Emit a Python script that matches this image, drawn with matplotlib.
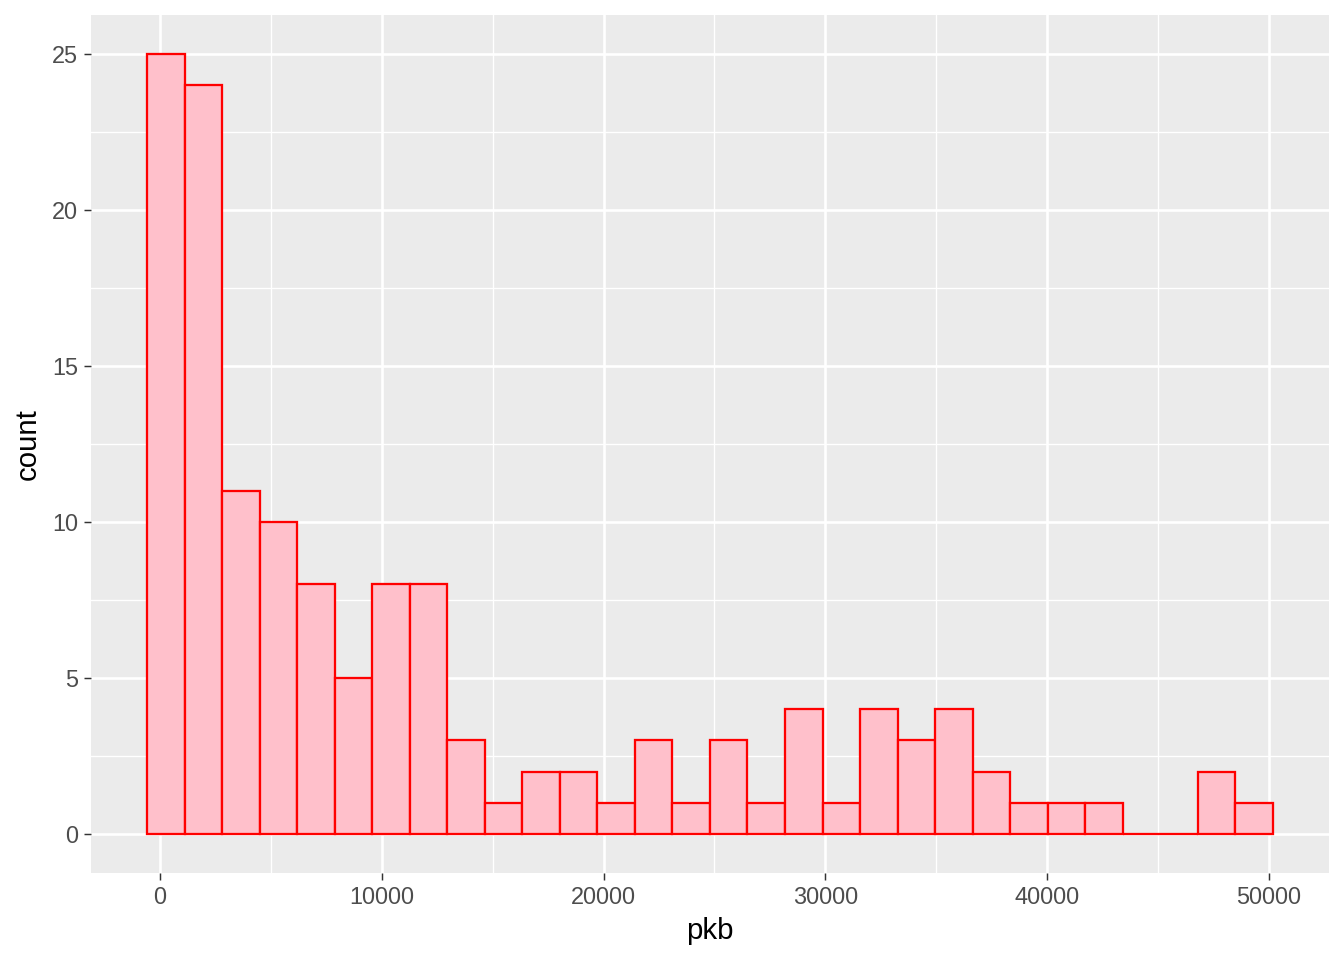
import matplotlib
matplotlib.use("Agg")
import matplotlib.pyplot as plt
import numpy as np

# histogram counts (30 bins, ggplot style)
counts = [25, 24, 11, 10, 8, 5, 8, 8, 3, 1,
          2, 2, 1, 3, 1, 3, 1, 4, 1, 4,
          3, 4, 2, 1, 1, 1, 0, 0, 2, 1]
first_center = 270
last_center = 49324
x_ticks = [0, 10000, 20000, 30000, 40000, 50000]
y_ticks = [0, 5, 10, 15, 20, 25]

nbins = len(counts)
binwidth = (last_center - first_center) / (nbins - 1)
centers = first_center + binwidth * np.arange(nbins)

plt.rcParams['font.family'] = ['Liberation Sans', 'DejaVu Sans']

fig = plt.figure(figsize=(7, 5), dpi=192)
ax = fig.add_axes([0.0677, 0.0906, 0.9211, 0.8938])
ax.set_facecolor('#EBEBEB')

ax.bar(centers, counts, width=binwidth, color='pink', edgecolor='red',
       linewidth=0.85, zorder=3)

lo = centers[0] - binwidth / 2
hi = centers[-1] + binwidth / 2
pad = (hi - lo) * 0.05
ax.set_xlim(lo - pad, hi + pad)
ax.set_ylim(-max(counts) * 0.05, max(counts) * 1.05)

ax.set_xticks(x_ticks)
ax.set_xticks([5000, 15000, 25000, 35000, 45000], minor=True)
ax.set_yticks(y_ticks)
ax.set_yticks([2.5, 7.5, 12.5, 17.5, 22.5], minor=True)
ax.grid(which='major', color='white', linewidth=1.0, zorder=1)
ax.grid(which='minor', color='white', linewidth=0.5, zorder=1)
ax.set_axisbelow(True)

for s in ax.spines.values():
    s.set_visible(False)
ax.tick_params(which='major', length=2.75, width=0.55, color='#333333',
               labelsize=8.8, labelcolor='#4D4D4D', pad=2)
ax.tick_params(which='minor', length=0)

ax.set_xlabel('pkb', fontsize=11, labelpad=3)
ax.set_ylabel('count', fontsize=11, labelpad=4)

fig.savefig('out.png', dpi=192)
